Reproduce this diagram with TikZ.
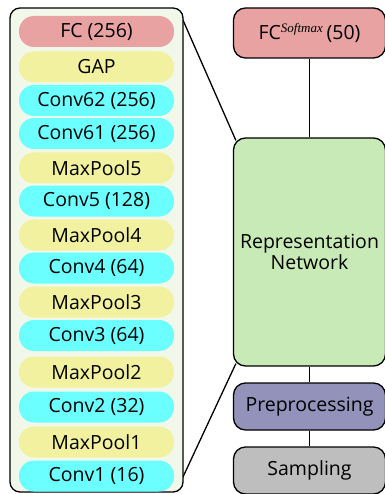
\documentclass[tikz,border=0pt]{standalone}
\usepackage{fontspec}
\setmainfont{Open Sans}
\newfontfamily\serifit{Liberation Serif}
\usetikzlibrary{calc,backgrounds}
\definecolor{fcred}{HTML}{E8A2A2}
\definecolor{gapyel}{HTML}{F2F1A0}
\definecolor{convcyan}{HTML}{6CFFFF}
\definecolor{outerg}{HTML}{F1F8EA}
\definecolor{repg}{HTML}{C8EAB6}
\definecolor{prepp}{HTML}{9292BA}
\definecolor{sampg}{HTML}{BEBEBE}
\tikzset{
  pill/.style={minimum width=155pt, minimum height=31pt, rounded corners=15pt, inner sep=0pt, font=\fontsize{19.5}{22}\selectfont},
  fcpill/.style={pill, fill=fcred},
  gappill/.style={pill, fill=gapyel},
  convpill/.style={pill, fill=convcyan},
  rbox/.style={draw=black, line width=1.3pt, rounded corners=12pt, minimum width=152pt, inner sep=0pt, font=\fontsize{19.5}{22}\selectfont, align=center},
  link/.style={draw=black, line width=1.3pt}
}
\begin{document}
\begin{tikzpicture}[x=1pt,y=-1pt]
\useasboundingbox (0,0) rectangle (384,494);
\node[draw=black, line width=1.3pt, fill=outerg, rounded corners=10pt, minimum width=173pt, minimum height=484pt, inner sep=0pt] (outer) at (96.5,250) {};
\node[fcpill] (fc) at (96.5,31.5) {FC (256)};
\node[gappill] (gap) at (96.5,67) {GAP};
\node[convpill] (c62) at (96.5,100.5) {Conv62 (256)};
\node[convpill] (c61) at (96.5,133.5) {Conv61 (256)};
\node[gappill] (mp5) at (96.5,168) {MaxPool5};
\node[convpill] (c5) at (96.5,201) {Conv5 (128)};
\node[gappill] (mp4) at (96.5,235) {MaxPool4};
\node[convpill] (c4) at (96.5,268) {Conv4 (64)};
\node[gappill] (mp3) at (96.5,302) {MaxPool3};
\node[convpill] (c3) at (96.5,335.5) {Conv3 (64)};
\node[gappill] (mp2) at (96.5,372) {MaxPool2};
\node[convpill] (c2) at (96.5,407) {Conv2 (32)};
\node[gappill] (mp1) at (96.5,442) {MaxPool1};
\node[convpill] (c1) at (96.5,476) {Conv1 (16)};

\node[rbox, fill=fcred, minimum height=50pt] (fcs) at (309.5,33) {FC\textsuperscript{\serifit\itshape\fontsize{13}{13}\selectfont Softmax}\,(50)};
\node[rbox, fill=repg, minimum height=228pt] (rep) at (309.5,252) {Representation\\[-1pt]Network};
\node[rbox, fill=prepp, minimum height=47pt] (prep) at (309.5,406.5) {Preprocessing};
\node[rbox, fill=sampg, minimum height=47pt] (samp) at (309.5,470.5) {Sampling};

\begin{scope}[on background layer]
\draw[link] (fcs) -- (rep);
\draw[link] (rep) -- (prep);
\draw[link] (prep) -- (samp);
\draw[link] ($(outer.north east)+(-1,12)$) -- ($(rep.north west)+(3,3)$);
\draw[link] ($(outer.south east)+(-1,-15)$) -- ($(rep.south west)+(3,-3)$);
\end{scope}
\end{tikzpicture}
\end{document}
